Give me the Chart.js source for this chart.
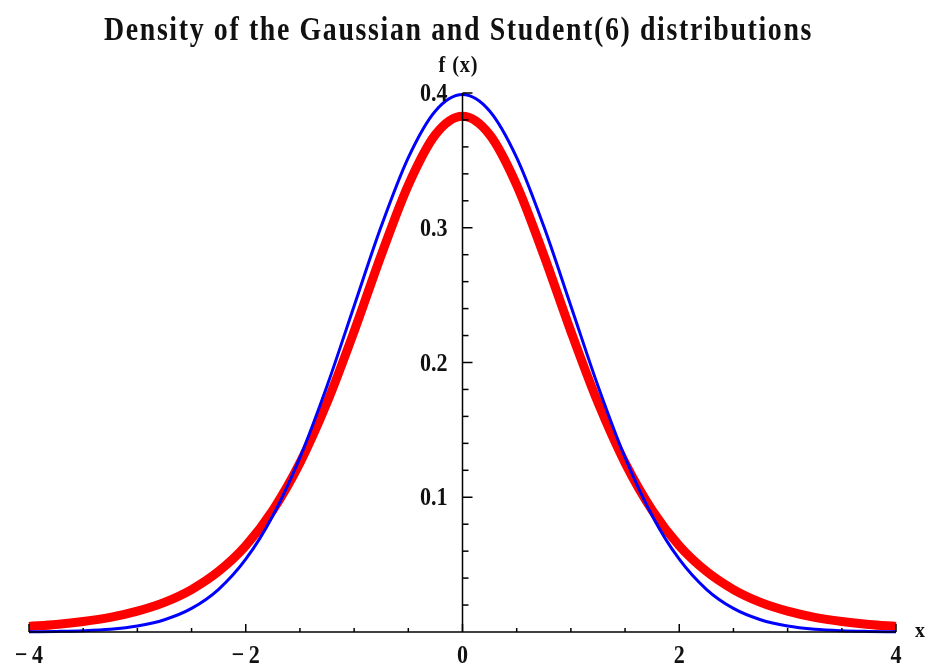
<!DOCTYPE html>
<html>
<head>
<meta charset="utf-8">
<title>Gaussian vs Student(6)</title>
<script src="https://cdn.jsdelivr.net/npm/chart.js@4.4.0/dist/chart.umd.min.js"></script>
<style>
  html, body { margin: 0; padding: 0; background: #fff; }
  #wrap { width: 929px; height: 666px; }
</style>
</head>
<body>
<div id="wrap"><canvas id="densityChart" width="929" height="666"></canvas></div>
<script>
// ---------- DATA ----------
const xValues = [-4, -3.75, -3.5, -3.25, -3, -2.75, -2.5, -2.25, -2, -1.75, -1.5, -1.25, -1, -0.75, -0.5, -0.25,
  0, 0.25, 0.5, 0.75, 1, 1.25, 1.5, 1.75, 2, 2.25, 2.5, 2.75, 3, 3.25, 3.5, 3.75, 4];
const gaussValues = [0.0001, 0.0004, 0.0009, 0.0020, 0.0044, 0.0091, 0.0175, 0.0317, 0.0540, 0.0863, 0.1295, 0.1826, 0.2420, 0.3011, 0.3521, 0.3867,
  0.3989, 0.3867, 0.3521, 0.3011, 0.2420, 0.1826, 0.1295, 0.0863, 0.0540, 0.0317, 0.0175, 0.0091, 0.0044, 0.0020, 0.0009, 0.0004, 0.0001];
const studentValues = [0.0041, 0.0056, 0.0078, 0.0109, 0.0155, 0.0220, 0.0315, 0.0450, 0.0640, 0.0904, 0.1255, 0.1702, 0.2231, 0.2797, 0.3317, 0.3691,
  0.3827, 0.3691, 0.3317, 0.2797, 0.2231, 0.1702, 0.1255, 0.0904, 0.0640, 0.0450, 0.0315, 0.0220, 0.0155, 0.0109, 0.0078, 0.0056, 0.0041];
const xTickLabels = [-4, -2, 0, 2, 4];
const yTickLabels = [0.1, 0.2, 0.3, 0.4];
const titleText = "Density of the Gaussian and Student(6) distributions";
const yAxisTitle = "f (x)";
const xAxisTitle = "x";

const FONT = '"Liberation Serif", "Times New Roman", serif';

// ---------- HELPERS ----------
function drawText(ctx, text, x, y, size, align, sx, spacing) {
  ctx.save();
  ctx.font = "bold " + size + "px " + FONT;
  ctx.letterSpacing = spacing || "0px";
  ctx.textBaseline = "alphabetic";
  ctx.textAlign = align;
  ctx.translate(x, y);
  ctx.scale(sx, 1);
  ctx.fillText(text, 0, 0);
  ctx.restore();
}

function line(ctx, x1, y1, x2, y2) {
  ctx.beginPath();
  ctx.moveTo(x1, y1);
  ctx.lineTo(x2, y2);
  ctx.stroke();
}

// Mathematica puts a small gap after the minus sign
function fmtMinus(v) {
  return v < 0 ? "\u2212\u2009" + Math.abs(v) : String(v);
}

// ---------- AXES (Mathematica style, crossing at origin) ----------
const originAxes = {
  id: "originAxes",
  afterDatasetsDraw(chart) {
    const { ctx, scales: { x, y } } = chart;
    const x0 = x.getPixelForValue(0);
    const y0 = y.getPixelForValue(0);
    ctx.save();
    ctx.strokeStyle = "#000";
    ctx.lineWidth = 1.5;
    ctx.fillStyle = "#111";

    line(ctx, x.getPixelForValue(x.min), y0, x.getPixelForValue(x.max), y0);
    line(ctx, x0, y0, x0, y.getPixelForValue(0.4));

    // x ticks every 0.5, major every 2
    for (let i = 0; i <= 16; i++) {
      const px = x.getPixelForValue(-4 + i * 0.5);
      line(ctx, px, y0, px, y0 - (i % 4 === 0 ? 8 : 4));
    }
    // y ticks every 0.02, major every 0.1
    for (let i = 1; i <= 20; i++) {
      const py = y.getPixelForValue(i * 0.02);
      line(ctx, x0, py, x0 + (i % 5 === 0 ? 10 : 6), py);
    }

    xTickLabels.forEach(v => {
      drawText(ctx, fmtMinus(v), x.getPixelForValue(v), y0 + 31, 26, "center", 0.85);
    });
    yTickLabels.forEach(v => {
      drawText(ctx, v.toFixed(1), x0 - 15, y.getPixelForValue(v) + 8, 26, "right", 0.85);
    });

    drawText(ctx, yAxisTitle, x0 - 4, 72, 24, "center", 0.85, "1px");
    drawText(ctx, xAxisTitle, 915, y0 + 5, 22, "left", 0.9);

    // title, condensed to the reference width
    ctx.font = "bold 34px " + FONT;
    ctx.letterSpacing = "2px";
    const w = ctx.measureText(titleText).width;
    ctx.letterSpacing = "0px";
    drawText(ctx, titleText, 458.5, 40, 34, "center", 709 / w, "2px");
    ctx.restore();
  }
};

// ---------- CHART ----------
const toPoints = vals => xValues.map((xv, i) => ({ x: xv, y: vals[i] }));

new Chart(document.getElementById("densityChart"), {
  type: "line",
  data: {
    datasets: [
      {
        label: "Gaussian",
        data: toPoints(gaussValues),
        borderColor: "#0000ff",
        borderWidth: 3,
        pointRadius: 0,
        cubicInterpolationMode: "monotone",
        clip: false
      },
      {
        label: "Student(6)",
        data: toPoints(studentValues),
        borderColor: "#ff0000",
        borderWidth: 9,
        pointRadius: 0,
        cubicInterpolationMode: "monotone",
        clip: false
      }
    ]
  },
  options: {
    responsive: false,
    animation: false,
    layout: { padding: { left: 29, right: 33, top: 93, bottom: 34 } },
    plugins: {
      legend: { display: false },
      title: { display: false },
      tooltip: { enabled: false }
    },
    scales: {
      x: { type: "linear", min: -4, max: 4, display: false },
      y: { type: "linear", min: 0, max: 0.4, display: false }
    }
  },
  plugins: [originAxes]
});
</script>
</body>
</html>
